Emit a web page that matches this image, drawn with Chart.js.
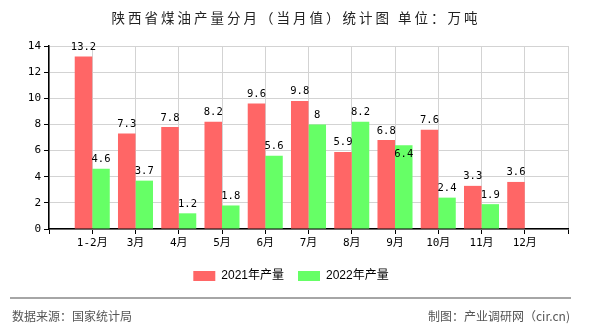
<!DOCTYPE html>
<html>
<head>
<meta charset="utf-8">
<script src="https://cdn.jsdelivr.net/npm/chart.js@4/dist/chart.umd.min.js"></script>
<style>
  html, body { margin: 0; padding: 0; background: #fff; }
  #wrap { width: 590px; height: 330px; }
</style>
</head>
<body>
<div id="wrap"><canvas id="chart" width="590" height="330"></canvas></div>
<script>
const months = ["1-2月", "3月", "4月", "5月", "6月", "7月", "8月", "9月", "10月", "11月", "12月"];
const output2021 = [13.2, 7.3, 7.8, 8.2, 9.6, 9.8, 5.9, 6.8, 7.6, 3.3, 3.6];
const output2022 = [4.6, 3.7, 1.2, 1.8, 5.6, 8, 8.2, 6.4, 2.4, 1.9, null];
const yTicks = [0, 2, 4, 6, 8, 10, 12, 14];

const titleText = "陕西省煤油产量分月（当月值）统计图 单位：万吨";
const sourceText = "数据来源：国家统计局";
const makerText = "制图：产业调研网（cir.cn)";

const monoFont = "'DejaVu Sans Mono', 'Noto Sans CJK SC', monospace";

// the x axis has an empty slot before the first month and after the last one
const labels = ["", ...months, ""];
const pad = (arr) => [null, ...arr, null];

// title on top, source line at the bottom
const framePlugin = {
  id: "frame",
  afterDraw(chart) {
    const ctx = chart.ctx;
    ctx.save();
    ctx.fillStyle = "#222";
    ctx.font = "13.5px 'Noto Sans CJK SC', sans-serif";
    ctx.letterSpacing = "3px";
    ctx.textAlign = "center";
    ctx.textBaseline = "middle";
    ctx.fillText(titleText, 296, 18);
    ctx.letterSpacing = "0px";

    ctx.strokeStyle = "#888";
    ctx.lineWidth = 1.5;
    ctx.beginPath();
    ctx.moveTo(10, 298);
    ctx.lineTo(571, 298);
    ctx.stroke();

    ctx.fillStyle = "#555";
    ctx.font = "12px 'Noto Sans CJK SC', sans-serif";
    ctx.textAlign = "left";
    ctx.fillText(sourceText, 12, 316);
    ctx.textAlign = "right";
    ctx.fillText(makerText, 570, 316);
    ctx.restore();
  }
};

// value labels above each bar
const valuePlugin = {
  id: "values",
  afterDatasetsDraw(chart) {
    const ctx = chart.ctx;
    ctx.save();
    ctx.font = "10.5px " + monoFont;
    ctx.fillStyle = "#000";
    ctx.textAlign = "center";
    ctx.textBaseline = "bottom";
    const placed = [];
    chart.data.datasets.forEach((ds, di) => {
      chart.getDatasetMeta(di).data.forEach((bar, i) => {
        const v = ds.data[i];
        if (v === null || v === undefined) return;
        const text = String(v);
        const w = ctx.measureText(text).width;
        let y = bar.y - 4;
        const other = placed[i];
        // push the label into the bar if it would hit its neighbour's label
        if (other && Math.abs(other.x - bar.x) < (w + other.w) / 2 && Math.abs(other.y - y) < 12) {
          y = bar.y + 14;
        }
        ctx.fillText(text, bar.x, y);
        placed[i] = { x: bar.x, y, w };
      });
    });
    ctx.restore();
  }
};

new Chart(document.getElementById("chart"), {
  type: "bar",
  data: {
    labels,
    datasets: [
      {
        label: "2021年产量",
        data: pad(output2021),
        backgroundColor: "#ff6666",
        categoryPercentage: 0.81,
        barPercentage: 1.0,
      },
      {
        label: "2022年产量",
        data: pad(output2022),
        backgroundColor: "#66ff66",
        categoryPercentage: 0.81,
        barPercentage: 1.0,
      },
    ],
  },
  options: {
    responsive: false,
    animation: false,
    layout: { padding: { left: 14, right: 22, top: 46, bottom: 38 } },
    plugins: {
      legend: {
        position: "bottom",
        labels: {
          boxWidth: 22,
          boxHeight: 10,
          padding: 14,
          color: "#000",
          font: { size: 12, family: "'Liberation Sans', 'Noto Sans CJK SC', sans-serif" },
        },
      },
      tooltip: { enabled: false },
    },
    scales: {
      x: {
        offset: false,
        grid: { offset: false, color: "#d3d3d3", tickColor: "#000", tickLength: 5 },
        border: { color: "#000", width: 1.5 },
        ticks: {
          autoSkip: false,
          maxRotation: 0,
          padding: 3,
          color: "#000",
          font: { size: 11, family: monoFont },
        },
        afterFit(scale) { scale.height = 27; },
      },
      y: {
        min: 0,
        max: 14,
        afterBuildTicks(scale) { scale.ticks = yTicks.map((v) => ({ value: v })); },
        grid: { color: "#d3d3d3", tickColor: "#000", tickLength: 5 },
        border: { color: "#000", width: 1.5 },
        ticks: {
          padding: 3,
          color: "#000",
          font: { size: 11, family: monoFont },
        },
        afterFit(scale) { scale.width = 35; },
      },
    },
  },
  plugins: [framePlugin, valuePlugin],
});
</script>
</body>
</html>
